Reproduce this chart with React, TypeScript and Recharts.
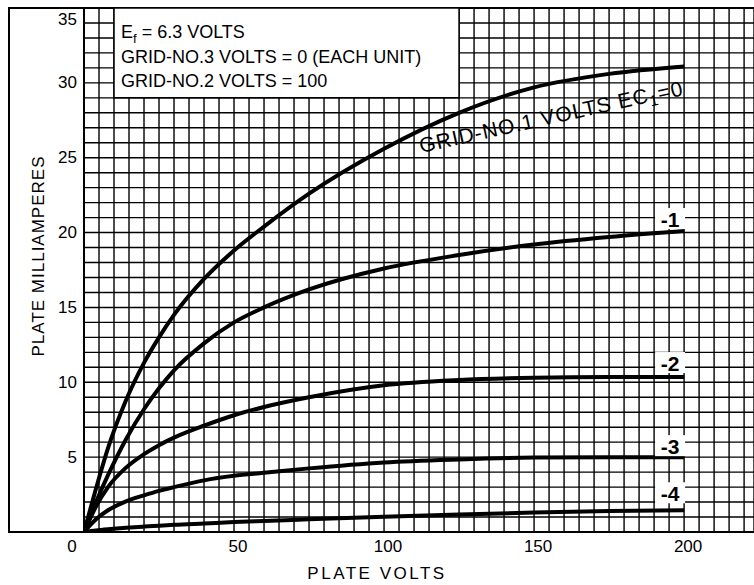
import React from 'react';
import { LineChart, Line, XAxis, YAxis, CartesianGrid, ReferenceArea } from 'recharts';

const plateVolts = [0, 4, 8, 14, 20, 25, 30, 40, 50, 60, 75, 100, 125, 150, 175, 200];
const ec0 = [0, 2.9, 5.6, 8.8, 11.3, 13.0, 14.5, 16.9, 18.8, 20.4, 22.6, 25.6, 28.0, 29.7, 30.6, 31.1];
const ecMinus1 = [0, 2.0, 3.8, 6.2, 8.2, 9.6, 10.8, 12.6, 14.0, 15.0, 16.2, 17.6, 18.5, 19.2, 19.7, 20.1];
const ecMinus2 = [0, 1.7, 3.0, 4.3, 5.2, 5.8, 6.3, 7.1, 7.8, 8.35, 9.0, 9.8, 10.15, 10.3, 10.35, 10.35];
const ecMinus3 = [0, 0.85, 1.45, 2.05, 2.45, 2.75, 3.0, 3.45, 3.75, 3.95, 4.25, 4.65, 4.85, 4.97, 5.0, 5.0];
const ecMinus4 = [0, 0.1, 0.18, 0.28, 0.36, 0.42, 0.48, 0.57, 0.66, 0.74, 0.85, 1.02, 1.17, 1.3, 1.4, 1.45];

const xGridTicks = Array.from({ length: 45 }, (_, i) => i * 5);
const yGridTicks = Array.from({ length: 36 }, (_, i) => i);
const xLabelTicks = [0, 50, 100, 150, 200];
const yLabelTicks = [5, 10, 15, 20, 25, 30, 35];
const seriesLabels = ['-1', '-2', '-3', '-4'];
const infoLines = ['6.3 VOLTS', 'GRID-NO.3 VOLTS = 0 (EACH UNIT)', 'GRID-NO.2 VOLTS = 100'];

const data = plateVolts.map((v, i) => ({
  v,
  ec0: ec0[i],
  ec1: ecMinus1[i],
  ec2: ecMinus2[i],
  ec3: ecMinus3[i],
  ec4: ecMinus4[i],
}));

const FONT = '"Liberation Sans", Arial, sans-serif';
const lastIndex = plateVolts.length - 1;
const idx150 = plateVolts.indexOf(150);

const XTick = (props: any) => {
  const { x, y, payload } = props;
  if (!xLabelTicks.includes(payload.value)) return <g />;
  const dx = payload.value === 0 ? -12 : 4;
  return (
    <text x={x + dx} y={y + 6} textAnchor="middle" dominantBaseline="central" fontFamily={FONT} fontSize={17} fill="#000">
      {payload.value}
    </text>
  );
};

const YTick = (props: any) => {
  const { x, y, payload } = props;
  if (!yLabelTicks.includes(payload.value)) return <g />;
  const dy = payload.value === 35 ? 11 : 0;
  return (
    <text x={x + 1} y={y + dy} textAnchor="end" dominantBaseline="central" fontFamily={FONT} fontSize={17} fill="#000">
      {payload.value}
    </text>
  );
};

const endLabel = (text: string, dy: number) => (props: any) => {
  const { x, y, index } = props;
  if (index !== lastIndex) return <g />;
  const cx = x - 14;
  const cy = y + dy;
  return (
    <g>
      <rect x={cx - 15} y={cy - 11} width={30} height={21} fill="#fff" />
      <text x={cx} y={cy} textAnchor="middle" dominantBaseline="central" fontFamily={FONT} fontSize={21} fontWeight="bold" fill="#000">
        {text}
      </text>
    </g>
  );
};

const ec0Label = (props: any) => {
  const { x, y, index } = props;
  if (index !== idx150) return <g />;
  return (
    <text
      transform={`translate(${x + 17},${y + 29}) rotate(-12.5)`}
      textAnchor="middle"
      dominantBaseline="central"
      fontFamily={FONT}
      fontSize={21}
      letterSpacing={1}
      fill="#000"
    >
      GRID-NO.1 VOLTS EC<tspan fontSize={15} dy={6}>1</tspan>
      <tspan dy={-6}>=0</tspan>
    </text>
  );
};

const infoBox = (props: any) => {
  const vb = props.viewBox;
  const x0 = vb.x + 7;
  const y0 = vb.y;
  return (
    <g fontFamily={FONT} fontSize={18} fill="#000">
      <text x={x0} y={y0 + 30}>
        E<tspan fontSize={13} dy={5}>f</tspan>
        <tspan dy={-5}> = {infoLines[0]}</tspan>
      </text>
      <text x={x0} y={y0 + 55}>{infoLines[1]}</text>
      <text x={x0} y={y0 + 79}>{infoLines[2]}</text>
    </g>
  );
};

const xTitle = (props: any) => {
  const vb = props.viewBox;
  return (
    <text x={vb.x + 293} y={vb.y + 41} textAnchor="middle" dominantBaseline="central" fontFamily={FONT} fontSize={17} letterSpacing={2.5} fill="#000">
      PLATE VOLTS
    </text>
  );
};

const yTitle = (props: any) => {
  const vb = props.viewBox;
  const cx = vb.x + 38;
  const cy = 256;
  return (
    <text transform={`translate(${cx},${cy}) rotate(-90)`} textAnchor="middle" dominantBaseline="central" fontFamily={FONT} fontSize={17} letterSpacing={1} fill="#000">
      PLATE MILLIAMPERES
    </text>
  );
};

export default function App() {
  return (
    <div style={{ position: 'absolute', left: 0, top: 0, width: 754, height: 585, overflow: 'hidden', background: '#fff' }}>
      <div
        style={{
          position: 'absolute',
          left: 8,
          top: 7,
          width: 800,
          height: 526,
          border: '2px solid #000',
          boxSizing: 'border-box',
        }}
      />
      <div style={{ position: 'absolute', left: 0, top: 0 }}>
        <LineChart width={754} height={585} data={data} margin={{ top: 8, right: 0, bottom: 0, left: 0 }}>
          <CartesianGrid stroke="#000" strokeWidth={1.4} />
          <XAxis
            type="number"
            dataKey="v"
            domain={[0, 223.3]}
            ticks={xGridTicks}
            interval={0}
            tick={XTick}
            tickLine={false}
            axisLine={{ stroke: '#000', strokeWidth: 2 }}
            height={53}
            allowDataOverflow
            label={xTitle}
          />
          <YAxis
            type="number"
            domain={[0, 35]}
            ticks={yGridTicks}
            interval={0}
            tick={YTick}
            tickLine={false}
            axisLine={{ stroke: '#000', strokeWidth: 2 }}
            width={84}
            allowDataOverflow
            label={yTitle}
          />
          <ReferenceArea x1={10} x2={125} y1={29} y2={35} fill="#fff" fillOpacity={1} stroke="#000" strokeWidth={1.5} label={infoBox} />
          <Line dataKey="ec0" type="monotone" stroke="#000" strokeWidth={4} dot={false} isAnimationActive={false} label={ec0Label} />
          <Line dataKey="ec1" type="monotone" stroke="#000" strokeWidth={4} dot={false} isAnimationActive={false} label={endLabel(seriesLabels[0], -12)} />
          <Line dataKey="ec2" type="monotone" stroke="#000" strokeWidth={4} dot={false} isAnimationActive={false} label={endLabel(seriesLabels[1], -14)} />
          <Line dataKey="ec3" type="monotone" stroke="#000" strokeWidth={4} dot={false} isAnimationActive={false} label={endLabel(seriesLabels[2], -11)} />
          <Line dataKey="ec4" type="monotone" stroke="#000" strokeWidth={4} dot={false} isAnimationActive={false} label={endLabel(seriesLabels[3], -17)} />
        </LineChart>
      </div>
    </div>
  );
}
